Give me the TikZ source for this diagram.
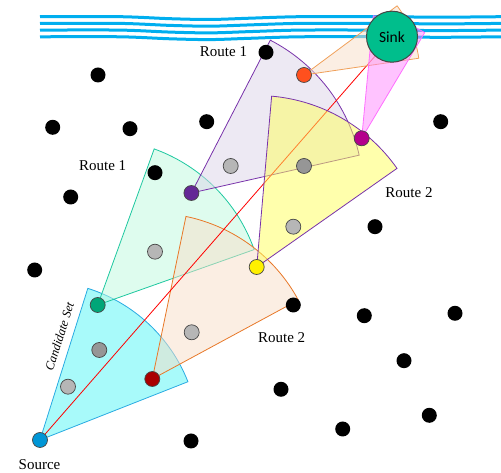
\documentclass[tikz,border=0pt]{standalone}
\usepackage{fontspec}
\setmainfont{Liberation Serif}
\newfontfamily\sinkfont{Carlito}
\usetikzlibrary{backgrounds}

\definecolor{wavecol}{RGB}{0,174,239}
\definecolor{cyanfill}{RGB}{168,250,250}
\definecolor{cyanline}{RGB}{41,171,226}
\definecolor{mintfill}{RGB}{190,249,221}
\definecolor{mintline}{RGB}{30,200,160}
\definecolor{peachfill}{RGB}{247,222,200}
\definecolor{peachline}{RGB}{232,120,40}
\definecolor{lightorange}{RGB}{240,160,90}
\definecolor{lavfill}{RGB}{219,212,232}
\definecolor{purpline}{RGB}{120,50,170}
\definecolor{yelfill}{RGB}{255,255,90}
\definecolor{pinkfill}{RGB}{255,135,255}
\definecolor{pinkline}{RGB}{255,110,255}
\definecolor{outline}{RGB}{70,70,70}
\definecolor{srccol}{RGB}{0,150,214}
\definecolor{greencol}{RGB}{0,166,120}
\definecolor{redcol}{RGB}{170,0,0}
\definecolor{purplecol}{RGB}{100,40,150}
\definecolor{yellowcol}{RGB}{255,240,0}
\definecolor{orangecol}{RGB}{255,80,30}
\definecolor{magentacol}{RGB}{180,0,140}
\definecolor{sinkcol}{RGB}{0,190,140}
\definecolor{lightgray}{RGB}{182,182,182}
\definecolor{darkgray}{RGB}{150,150,150}

\begin{document}
\begin{tikzpicture}[x=1pt,y=1pt,
  dot/.style={circle, fill=black, inner sep=0pt, minimum size=15pt},
  relay/.style={circle, draw=outline, line width=0.7pt, inner sep=0pt, minimum size=15pt},
  label/.style={font=\fontsize{15}{15}\selectfont, inner sep=0pt},
  wave/.style={wavecol, line width=3pt},
  sector/.style={line width=0.8pt, fill opacity=0.5, draw opacity=1}
]
\useasboundingbox (0,0) rectangle (501,473);

% sensor nodes
\node[relay, fill=srccol]     (src)  at (40,33)      {};
\node[relay, fill=greencol]   (hopA) at (97.7,168)   {};
\node[relay, fill=redcol]     (hopB) at (152.3,94)   {};
\node[relay, fill=purplecol]  (hopC) at (191.4,280)  {};
\node[relay, fill=yellowcol]  (hopD) at (256.7,206)  {};
\node[relay, fill=orangecol]  (hopE) at (304,398)    {};
\node[relay, fill=magentacol] (hopF) at (361.7,334.7) {};
\node[circle, draw=outline, line width=1pt, fill=sinkcol, minimum size=51pt, inner sep=0pt,
      font=\sinkfont\fontsize{15.5}{15.5}\selectfont] (sink) at (392,436.3) {Sink};

% candidate nodes
\node[relay, fill=lightgray] (g1) at (68,86.3)     {};
\node[relay, fill=darkgray]  (g2) at (99.3,123)    {};
\node[relay, fill=lightgray] (g3) at (191.7,140.7) {};
\node[relay, fill=lightgray] (g4) at (155,221.3)   {};
\node[relay, fill=lightgray] (g5) at (293.3,246.3) {};
\node[relay, fill=lightgray] (g6) at (230.7,307)   {};
\node[relay, fill=darkgray]  (g7) at (304,307)     {};

% idle nodes
\node[dot] (d1)  at (266,420.7)   {};
\node[dot] (d2)  at (98,398)      {};
\node[dot] (d3)  at (52.7,345.7)  {};
\node[dot] (d4)  at (130,344.3)   {};
\node[dot] (d5)  at (206.7,351.3) {};
\node[dot] (d6)  at (440.7,351.3) {};
\node[dot] (d7)  at (155,300.3)   {};
\node[dot] (d8)  at (70.7,276)    {};
\node[dot] (d9)  at (375,246.3)   {};
\node[dot] (d10) at (34.7,203)    {};
\node[dot] (d11) at (293.3,168)   {};
\node[dot] (d12) at (364.3,157.3) {};
\node[dot] (d13) at (455,159.7)   {};
\node[dot] (d14) at (404,112.3)   {};
\node[dot] (d15) at (281,83.7)    {};
\node[dot] (d16) at (429.3,57.7)  {};
\node[dot] (d17) at (342.7,44)    {};
\node[dot] (d18) at (191,32)      {};

% labels
\node[label] (r1a) at (223.5,421) {Route 1};
\node[label] (r1b) at (102.7,307) {Route 1};
\node[label] (r2a) at (409,280)   {Route 2};
\node[label] (r2b) at (281.7,135.7) {Route 2};
\node[label] (srclab) at (39.5,8) {Source};
\node[inner sep=0pt, rotate=72.5, font=\itshape\fontsize{12.5}{12.5}\selectfont] (cand) at (59.5,136.5) {Candidate Set};

\begin{scope}[on background layer]
  % water surface
  \foreach \yy in {456.3,449.6,442.9,436.2}
    \draw[wave] plot[smooth] coordinates {(40,\yy) (120,\yy) (170,\yy-2) (210,\yy-2.8) (250,\yy-1.5) (300,\yy) (380,\yy) (440,\yy-0.5) (501,\yy)};

  % forwarding sectors
  \filldraw[sector, fill=cyanfill, fill opacity=1, draw=cyanline]
    (src.center) -- ++(21.5:159) arc[start angle=21.5, end angle=72.5, radius=159] -- cycle;
  \filldraw[sector, fill=mintfill, draw=mintline]
    (hopA.center) -- ++(19.5:166) arc[start angle=19.5, end angle=70.1, radius=166] -- cycle;
  \filldraw[sector, fill=peachfill, draw=peachline]
    (hopB.center) -- ++(28.4:166) arc[start angle=28.4, end angle=78.3, radius=166] -- cycle;
  \filldraw[sector, fill=lavfill, draw=purpline]
    (hopC.center) -- ++(12.7:172) arc[start angle=12.7, end angle=62.7, radius=172] -- cycle;

  % direct line from source to sink
  \draw[red, line width=0.8pt] (src.center) -- (sink.center);

  \filldraw[sector, fill=yelfill, draw=purpline]
    (hopD.center) -- ++(35.1:171.5) arc[start angle=35.1, end angle=85, radius=171.5] -- cycle;
  \filldraw[sector, fill=peachfill, draw=lightorange]
    (hopE.center) -- ++(8.3:116) arc[start angle=8.3, end angle=36.6, radius=116] -- cycle;
  \filldraw[sector, fill=pinkfill, draw=pinkline]
    (hopF.center) -- ++(59.2:123) arc[start angle=59.2, end angle=84.6, radius=123] -- cycle;
\end{scope}
\end{tikzpicture}
\end{document}
